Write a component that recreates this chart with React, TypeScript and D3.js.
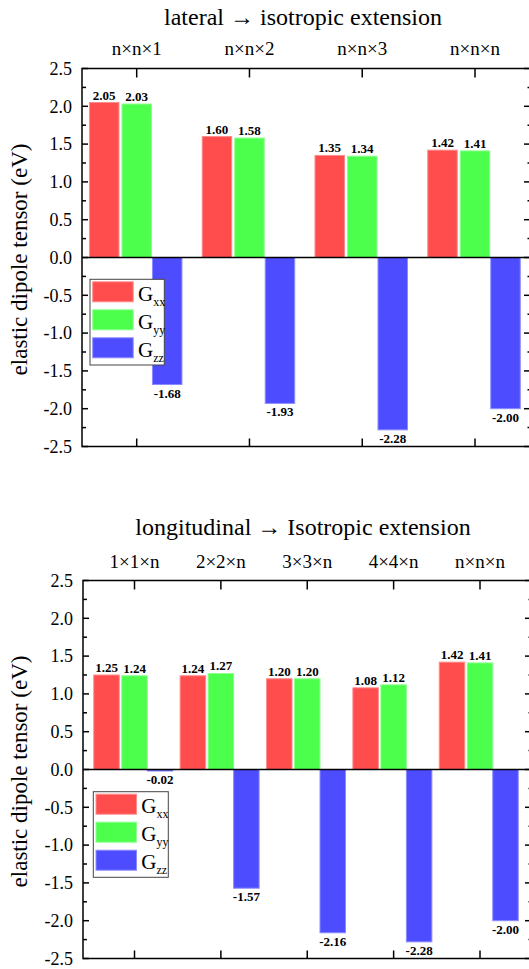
import { scaleLinear, scalePoint, range } from "d3";

const lateralCategories = ["n×n×1", "n×n×2", "n×n×3", "n×n×n"];
const lateralGxx = [2.05, 1.6, 1.35, 1.42];
const lateralGyy = [2.03, 1.58, 1.34, 1.41];
const lateralGzz = [-1.68, -1.93, -2.28, -2.0];

const longCategories = ["1×1×n", "2×2×n", "3×3×n", "4×4×n", "n×n×n"];
const longGxx = [1.25, 1.24, 1.2, 1.08, 1.42];
const longGyy = [1.24, 1.27, 1.2, 1.12, 1.41];
const longGzz = [-0.02, -1.57, -2.16, -2.28, -2.0];

const yDomain = [-2.5, 2.5];
const seriesNames = ["xx", "yy", "zz"];
const fills = ["#ff4d4d", "#4dff4d", "#4d4dff"];
const edges = ["#ff8c8c", "#8cff8c", "#8c8cff"];

const FONT = '"Liberation Serif", "DejaVu Serif", serif';

type PanelProps = {
  title: string;
  titleY: number;
  catY: number;
  categories: string[];
  series: number[][];
  top: number;
  bottom: number;
  left: number;
  right: number;
  first: number;
  last: number;
  barW: number;
  gapRG: number;
  gapGB: number;
  legend: { x: number; y: number; w: number; h: number };
};

function Panel(p: PanelProps) {
  const y = scaleLinear().domain(yDomain).range([p.bottom, p.top]);
  const x = scalePoint<string>().domain(p.categories).range([p.first, p.last]);
  const majors = range(-2.5, 2.51, 0.5);
  const minors = range(-2.25, 2.5, 0.5);
  // red, green, blue bar offsets from the group tick (green is centred on it)
  const offsets = [
    -p.barW * 1.5 - p.gapRG,
    -p.barW / 2,
    p.barW / 2 + p.gapGB,
  ];
  const lg = p.legend;
  const rowH = 28;
  return (
    <g style={{ fontFamily: FONT }}>
      <text x={303} y={p.titleY} fontSize={24} textAnchor="middle">
        {p.title}
      </text>
      {p.categories.map((c) => (
        <text key={c} x={x(c)} y={p.catY} fontSize={19} textAnchor="middle">
          {c}
        </text>
      ))}
      <text
        transform={`translate(27,${(p.top + p.bottom) / 2 + 2}) rotate(-90)`}
        fontSize={23}
        textAnchor="middle"
      >
        elastic dipole tensor (eV)
      </text>
      {p.series.map((vals, si) =>
        vals.map((v, i) => {
          const bx = (x(p.categories[i]) as number) + offsets[si];
          const y0 = y(0);
          const yv = y(v);
          const h = Math.abs(yv - y0);
          return (
            <g key={si + "-" + i}>
              <rect
                x={bx}
                y={Math.min(y0, yv)}
                width={p.barW}
                height={Math.max(h, 1.5)}
                fill={fills[si]}
                stroke={edges[si]}
                strokeWidth={1}
              />
              <text
                x={bx + p.barW / 2}
                y={v >= 0 ? yv - 3 : yv + 13}
                fontSize={13}
                fontWeight="bold"
                textAnchor="middle"
              >
                {v.toFixed(2)}
              </text>
            </g>
          );
        })
      )}
      <line x1={p.left} x2={p.right} y1={y(0)} y2={y(0)} stroke="#000" strokeWidth={1.5} />
      <rect
        x={p.left}
        y={p.top}
        width={p.right - p.left}
        height={p.bottom - p.top}
        fill="none"
        stroke="#000"
        strokeWidth={1.5}
      />
      {majors.map((t) => (
        <g key={"M" + t}>
          <line x1={p.left} x2={p.left + 6} y1={y(t)} y2={y(t)} stroke="#000" strokeWidth={1.5} />
          <line x1={p.right} x2={p.right - 7} y1={y(t)} y2={y(t)} stroke="#000" strokeWidth={1.5} />
          <text x={p.left - 10} y={y(t)} dy="0.35em" fontSize={18} textAnchor="end">
            {t.toFixed(1)}
          </text>
        </g>
      ))}
      {minors.map((t) => (
        <g key={"m" + t}>
          <line x1={p.left} x2={p.left + 4} y1={y(t)} y2={y(t)} stroke="#000" strokeWidth={1.5} />
          <line x1={p.right} x2={p.right - 3.5} y1={y(t)} y2={y(t)} stroke="#000" strokeWidth={1.5} />
        </g>
      ))}
      {p.categories.map((c) => (
        <g key={"t" + c}>
          <line x1={x(c)} x2={x(c)} y1={p.top} y2={p.top + 9} stroke="#000" strokeWidth={1.5} />
          <line x1={x(c)} x2={x(c)} y1={p.bottom} y2={p.bottom - 8} stroke="#000" strokeWidth={1.5} />
        </g>
      ))}
      {/* legend */}
      <rect x={lg.x} y={lg.y} width={lg.w} height={lg.h} fill="#fff" stroke="#444" strokeWidth={1} />
      {seriesNames.map((s, si) => {
        const ry = lg.y + 2.5 + si * rowH;
        return (
          <g key={s}>
            <rect
              x={lg.x + 2.7}
              y={ry}
              width={40.5}
              height={20}
              fill={fills[si]}
              stroke={edges[si]}
              strokeWidth={1}
            />
            <text x={lg.x + 48} y={ry + 19} fontSize={21}>
              G
              <tspan fontSize={12} dy={5}>
                {s}
              </tspan>
            </text>
          </g>
        );
      })}
    </g>
  );
}

export default function App() {
  return (
    <svg
      width={529}
      height={969}
      style={{ position: "absolute", left: 0, top: 0, background: "#fff", fontFamily: FONT }}
    >
      <rect width={529} height={969} fill="#fff" />
      <Panel
        title="lateral → isotropic extension"
        titleY={25}
        catY={55}
        categories={lateralCategories}
        series={[lateralGxx, lateralGyy, lateralGzz]}
        top={68.5}
        bottom={446.5}
        left={82}
        right={531}
        first={136.7}
        last={475}
        barW={29.5}
        gapRG={3}
        gapGB={1}
        legend={{ x: 90, y: 279.3, w: 74.3, h: 85.7 }}
      />
      <Panel
        title="longitudinal → Isotropic extension"
        titleY={535}
        catY={568}
        categories={longCategories}
        series={[longGxx, longGyy, longGzz]}
        top={580.5}
        bottom={958.5}
        left={83}
        right={532}
        first={134.5}
        last={480}
        barW={25.5}
        gapRG={2.5}
        gapGB={0}
        legend={{ x: 93.3, y: 791.7, w: 75, h: 85.6 }}
      />
    </svg>
  );
}
